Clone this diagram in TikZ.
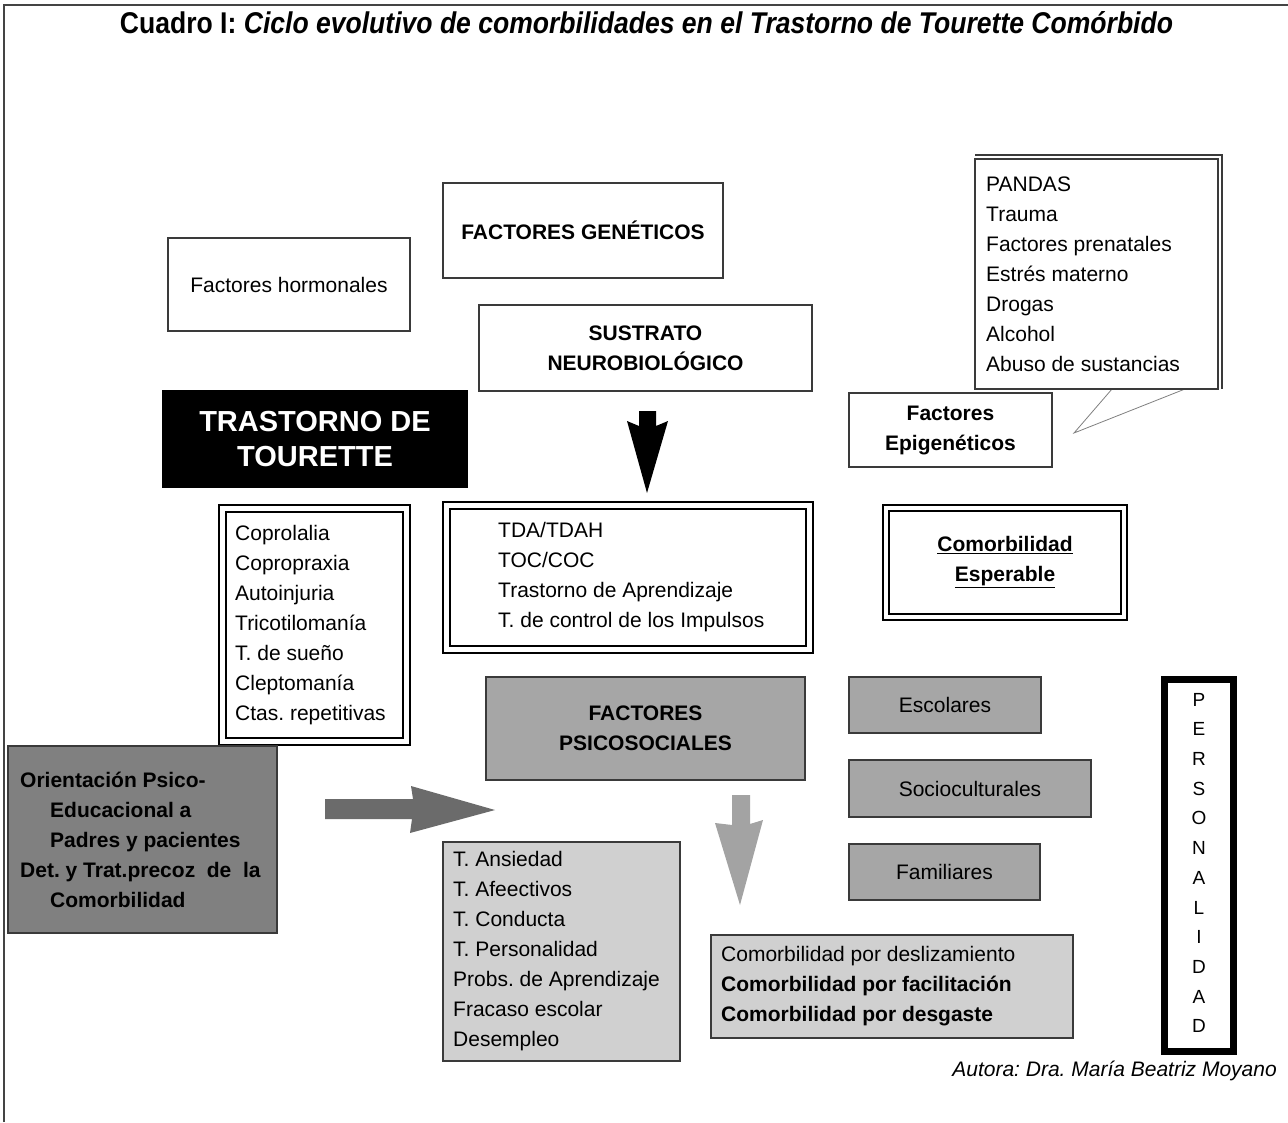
\documentclass[tikz,border=0pt]{standalone}
\usepackage{fontspec}
\setmainfont{Liberation Sans}
\usepackage{graphicx}
\frenchspacing

\definecolor{framegray}{HTML}{444444}
\definecolor{edge}{HTML}{3A3A3A}
\definecolor{midgray}{HTML}{A6A6A6}
\definecolor{deepgray}{HTML}{808080}
\definecolor{palegray}{HTML}{D0D0D0}
\definecolor{arrowdark}{HTML}{6B6B6B}
\definecolor{arrowlight}{HTML}{A3A3A3}

\tikzset{
  txt/.style={font=\fontsize{21}{30}\selectfont, text=black},
  bold/.style={font=\fontsize{21}{30}\selectfont\bfseries},
  box/.style={txt, draw=edge, line width=1.3pt, fill=white, rectangle,
    inner sep=0pt, outer sep=0pt, align=center},
  listtext/.style={txt, inner sep=0pt, align=left, anchor=west},
  dbl/.style={box, draw=black, line width=2.6pt},
  dblin/.style={draw=black, line width=1.6pt},
}

\begin{document}
\begin{tikzpicture}[x=1pt,y=-1pt]
\useasboundingbox (0,0) rectangle (1288,1122);
\fill[white] (0,0) rectangle (1288,1122);

% page frame (top and left rules)
\draw[framegray, line width=2pt] (4,1122) -- (4,5) -- (1288,5);

% title, set condensed
\node[anchor=base, inner sep=0pt] (title) at (646.5,33)
  {\resizebox{1053pt}{\height}{\fontsize{30}{34}\selectfont\bfseries Cuadro I: \itshape Ciclo evolutivo de comorbilidades en el Trastorno de Tourette Comórbido}};

% upper factors
\node[box, minimum width=242pt, minimum height=93pt] (horm) at (289,284.5) {Factores hormonales};
\node[box, bold, minimum width=280pt, minimum height=95pt] (gen) at (583,230.5) {FACTORES GENÉTICOS};
\node[box, bold, minimum width=333pt, minimum height=86pt] (sust) at (645.5,348) {SUSTRATO\\NEUROBIOLÓGICO};

% epigenetic list with callout
\coordinate (calloutTip) at (1074,433);
\draw[gray, line width=0.8pt] (1112,389) -- (calloutTip) -- (1185,389);
\draw[edge, line width=1.2pt] (975,155) -- (1222,155) -- (1222,389);
\node[box, line width=1.2pt, minimum width=243pt, minimum height=230pt] (epilist) at (1096.5,274) {};
\node[listtext] (epilistT) at ([xshift=11pt]epilist.west)
  {PANDAS\\Trauma\\Factores prenatales\\Estrés materno\\Drogas\\Alcohol\\Abuso de sustancias};
\node[box, bold, minimum width=203pt, minimum height=74pt] (epi) at (950.5,430) {Factores\\Epigenéticos};

% Tourette
\node[box, fill=black, draw=black, text=white, font=\fontsize{29}{35}\selectfont\bfseries,
  minimum width=304pt, minimum height=96pt] (ts) at (315,439) {TRASTORNO DE\\TOURETTE};

% black block arrow
\fill[black] (639,411) -- (656,411) -- (656,426) -- (668,421) -- (647,493)
  -- (627,421) -- (639,426) -- cycle;

% tic related behaviours
\node[dbl, minimum width=191pt, minimum height=240pt] (tics) at (314.5,625) {};
\draw[dblin] ([shift={(7,7)}]tics.north west) rectangle ([shift={(-7,-7)}]tics.south east);
\node[listtext] (ticsT) at ([xshift=16pt]tics.west)
  {Coprolalia\\Copropraxia\\Autoinjuria\\Tricotilomanía\\T. de sueño\\Cleptomanía\\Ctas. repetitivas};

% expected comorbidities
\node[dbl, minimum width=370pt, minimum height=151pt] (tda) at (628,577.5) {};
\draw[dblin] ([shift={(7,7)}]tda.north west) rectangle ([shift={(-7,-7)}]tda.south east);
\node[listtext] (tdaT) at ([xshift=55pt]tda.west)
  {TDA/TDAH\\TOC/COC\\Trastorno de Aprendizaje\\T. de control de los Impulsos};

\node[dbl, minimum width=244pt, minimum height=115pt] (esp) at (1005,562.5) {};
\draw[dblin] ([shift={(6,6)}]esp.north west) rectangle ([shift={(-6,-6)}]esp.south east);
\node[bold, align=center, inner sep=0pt] (espT) at (1005,562) {\underline{Comorbilidad}\\\underline{Esperable}};

% psychosocial factors
\node[box, bold, fill=midgray, minimum width=319pt, minimum height=103pt] (psico) at (645.5,728.5) {FACTORES\\PSICOSOCIALES};
\node[box, fill=midgray, minimum width=192pt, minimum height=56pt] (esc) at (945,705) {Escolares};
\node[box, fill=midgray, minimum width=242pt, minimum height=57pt] (socio) at (970,788.5) {Socioculturales};
\node[box, fill=midgray, minimum width=191pt, minimum height=56pt] (fam) at (944.5,872) {Familiares};

% personality column
\node[draw=black, line width=7pt, fill=white, minimum width=69pt, minimum height=372pt,
  inner sep=0pt, outer sep=0pt] (pers) at (1199,865.5) {};
\node[font=\fontsize{19}{29.7}\selectfont, align=center, inner sep=0pt] (persT) at (1199,863)
  {P\\E\\R\\S\\O\\N\\A\\L\\I\\D\\A\\D};

% orientation
\node[box, fill=deepgray, minimum width=269pt, minimum height=187pt] (orient) at (142.5,839.5) {};
\node[bold, align=left, inner sep=0pt, anchor=west] (orientT) at ([xshift=12pt]orient.west)
  {Orientación Psico-\\\hspace*{30pt}Educacional a\\\hspace*{30pt}Padres y pacientes\\Det. y Trat.precoz\ \ de\ \ la\\\hspace*{30pt}Comorbilidad};

% dark block arrow to the right
\fill[arrowdark] (325,799) -- (413,799) -- (411,786) -- (495,810) -- (410,833)
  -- (412,819) -- (325,819) -- cycle;

% consequences
\node[box, fill=palegray, minimum width=237pt, minimum height=219pt] (cons) at (561.5,951.5) {};
\node[listtext] (consT) at ([xshift=10pt]cons.west)
  {T. Ansiedad\\T. Afeectivos\\T. Conducta\\T. Personalidad\\Probs. de Aprendizaje\\Fracaso escolar\\Desempleo};

% light block arrow down
\fill[arrowlight] (732,795) -- (750,795) -- (750,824) -- (763,820) -- (740,905)
  -- (715,823) -- (732,825) -- cycle;

\node[box, fill=palegray, minimum width=362pt, minimum height=103pt] (mech) at (892,986.5) {};
\node[listtext] (mechT) at ([xshift=10pt]mech.west)
  {Comorbilidad por deslizamiento\\\textbf{Comorbilidad por facilitación}\\\textbf{Comorbilidad por desgaste}};

% author
\node[font=\fontsize{21}{30}\selectfont\itshape, anchor=base east, inner sep=0pt] (autora) at (1277,1076)
  {Autora: Dra. María Beatriz Moyano};
\end{tikzpicture}
\end{document}
